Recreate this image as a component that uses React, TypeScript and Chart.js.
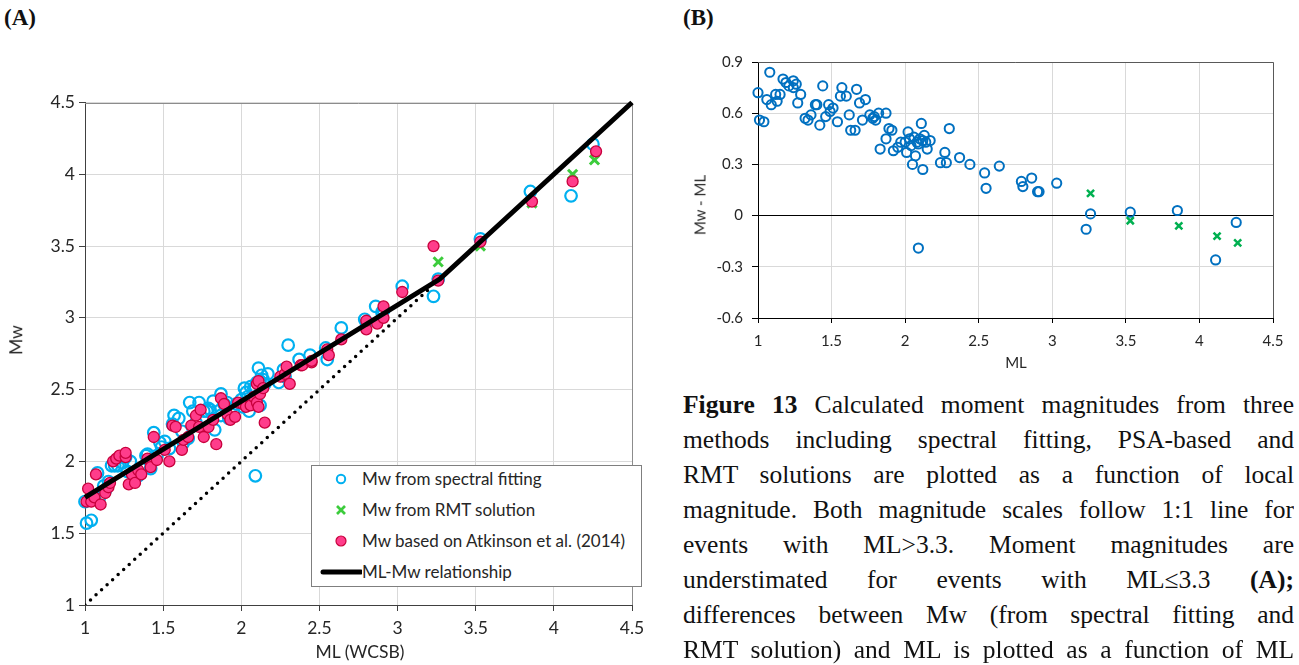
import React, { useEffect, useRef } from "react";
import { Chart, registerables } from "chart.js";

Chart.register(...registerables);

const FONT = "Lato, 'Open Sans', sans-serif";
const SERIF = "'Liberation Serif', 'DejaVu Serif', serif";

// ---- Data: Mw from spectral fitting (ML, Mw) and Mw - ML ----
const specML = [
  1.0, 1.01, 1.04, 1.06, 1.08, 1.09, 1.12, 1.13, 1.15, 1.17,
  1.19, 1.21, 1.24, 1.24, 1.26, 1.27, 1.29, 1.32, 1.34, 1.36,
  1.39, 1.4, 1.42, 1.44, 1.46, 1.48, 1.49, 1.51, 1.54, 1.56,
  1.57, 1.6, 1.62, 1.63, 1.66, 1.67, 1.69, 1.71, 1.73, 1.76,
  1.78, 1.8, 1.82, 1.79, 1.87, 1.83, 1.87, 1.89, 1.91, 1.92,
  1.95, 1.97, 2.0, 2.01, 2.02, 2.03, 2.04, 2.05, 2.06, 2.07,
  2.08, 2.09, 2.1, 2.11, 2.12, 2.12, 2.13, 2.14, 2.15, 2.17,
  2.09, 2.24, 2.27, 2.28, 2.3, 2.37, 2.44, 2.54, 2.55, 2.64,
  2.79, 2.8, 2.86, 2.9, 2.91, 3.03, 3.23, 3.26, 3.53, 3.85,
  4.11, 4.25,
];
const specMw = [
  1.72, 1.57, 1.59, 1.74, 1.92, 1.74, 1.83, 1.8, 1.86, 1.97,
  1.97, 1.97, 2.03, 1.99, 2.03, 1.93, 2.0, 1.89, 1.9, 1.95,
  2.04, 2.05, 1.95, 2.2, 2.04, 2.13, 2.1, 2.14, 2.09, 2.26,
  2.32, 2.3, 2.21, 2.13, 2.16, 2.41, 2.35, 2.27, 2.41, 2.35,
  2.35, 2.36, 2.42, 2.37, 2.47, 2.22, 2.32, 2.4, 2.41, 2.3,
  2.35, 2.4, 2.43, 2.38, 2.51, 2.48, 2.45, 2.35, 2.52, 2.42,
  2.51, 2.51, 2.55, 2.65, 2.39, 2.56, 2.6, 2.57, 2.54, 2.61,
  1.9, 2.55, 2.64, 2.59, 2.81, 2.71, 2.74, 2.79, 2.71, 2.93,
  2.99, 2.97, 3.08, 3.04, 3.05, 3.22, 3.15, 3.27, 3.55, 3.88,
  3.85, 4.21,
];
const specDiff = [
  0.72, 0.56, 0.55, 0.68, 0.84, 0.65, 0.71, 0.67, 0.71, 0.8,
  0.78, 0.76, 0.79, 0.75, 0.77, 0.66, 0.71, 0.57, 0.56, 0.59,
  0.65, 0.65, 0.53, 0.76, 0.58, 0.65, 0.61, 0.63, 0.55, 0.7,
  0.75, 0.7, 0.59, 0.5, 0.5, 0.74, 0.66, 0.56, 0.68, 0.59,
  0.57, 0.56, 0.6, 0.58, 0.6, 0.39, 0.45, 0.51, 0.5, 0.38,
  0.4, 0.43, 0.43, 0.37, 0.49, 0.45, 0.41, 0.3, 0.46, 0.35,
  0.43, 0.42, 0.45, 0.54, 0.27, 0.44, 0.47, 0.43, 0.39, 0.44,
  -0.19, 0.31, 0.37, 0.31, 0.51, 0.34, 0.3, 0.25, 0.16, 0.29,
  0.2, 0.17, 0.22, 0.14, 0.14, 0.19, -0.08, 0.01, 0.02, 0.03,
  -0.26, -0.04,
];

// ---- Mw from RMT solution ----
const rmtML = [3.26, 3.53, 3.86, 4.12, 4.26];
const rmtMw = [3.39, 3.5, 3.8, 4.0, 4.1];
const rmtDiff = [0.13, -0.03, -0.06, -0.12, -0.16];

// ---- Mw based on Atkinson et al. (2014) ----
const atkML = [
  1.01, 1.02, 1.04, 1.06, 1.07, 1.1, 1.13, 1.15, 1.16, 1.18,
  1.2, 1.22, 1.26, 1.26, 1.28, 1.3, 1.32, 1.34, 1.36, 1.4,
  1.42, 1.44, 1.46, 1.51, 1.54, 1.56, 1.58, 1.62, 1.63, 1.66,
  1.68, 1.71, 1.73, 1.74, 1.76, 1.79, 1.82, 1.84, 1.87, 1.89,
  1.91, 1.93, 1.96, 1.98, 2.01, 2.03, 2.06, 2.08, 2.1, 2.1,
  2.11, 2.11, 2.12, 2.14, 2.15, 2.25, 2.28, 2.29, 2.31, 2.38,
  2.39, 2.45, 2.45, 2.55, 2.56, 2.64, 2.8, 2.8, 2.87, 2.91,
  2.91, 3.03, 3.23, 3.26, 3.53, 3.86, 4.12, 4.27,
];
const atkMw = [
  1.72, 1.81, 1.72, 1.75, 1.91, 1.7, 1.78, 1.82, 1.85, 2.0,
  2.02, 2.04, 2.03, 2.06, 1.84, 1.91, 1.85, 1.94, 1.91, 2.02,
  1.96, 2.17, 2.01, 2.08, 2.0, 2.25, 2.24, 2.08, 2.15, 2.17,
  2.25, 2.32, 2.24, 2.36, 2.17, 2.24, 2.29, 2.12, 2.44, 2.4,
  2.33, 2.29, 2.31, 2.41, 2.4, 2.38, 2.39, 2.45, 2.41, 2.54,
  2.38, 2.56, 2.47, 2.51, 2.27, 2.59, 2.61, 2.66, 2.54, 2.67,
  2.67, 2.69, 2.7, 2.78, 2.74, 2.85, 2.92, 2.98, 2.96, 3.0,
  3.08, 3.18, 3.5, 3.26, 3.53, 3.81, 3.95, 4.16,
];

// ---- ML-Mw relationship and 1:1 line ----
const relML = [1.0, 3.27, 4.5];
const relMw = [1.75, 3.27, 4.5];
const oneML = [1.0, 3.2];
const oneMw = [1.0, 3.2];

// ---- Axis ranges / ticks ----
const axisA = { min: 1, max: 4.5, step: 0.5 };
const axisBx = { min: 1, max: 4.5, step: 0.5 };
const axisBy = { min: -0.6, max: 0.9, step: 0.3 };

const pts = (xs: number[], ys: number[]) => xs.map((x, i) => ({ x, y: ys[i] }));
const fmt = (v: any) => Number(v).toFixed(1).replace(/\.0$/, "").replace(/^-0$/, "0");

const framePlugin = {
  id: "frame",
  beforeDatasetsDraw(chart: any, _args: any, opts: any) {
    const { ctx, chartArea } = chart;
    const { left, right, top, bottom } = chartArea;
    ctx.save();
    ctx.strokeStyle = opts.color || "#888";
    ctx.lineWidth = 1;
    ctx.beginPath();
    ctx.moveTo(left, Math.round(top) + 0.5);
    ctx.lineTo(Math.round(right) + 0.5, Math.round(top) + 0.5);
    ctx.lineTo(Math.round(right) + 0.5, bottom);
    ctx.stroke();
    ctx.restore();
  },
};

function ChartA() {
  const ref = useRef<HTMLCanvasElement | null>(null);
  useEffect(() => {
    const chart = new Chart(ref.current as HTMLCanvasElement, {
      type: "scatter",
      data: {
        datasets: [
          {
            label: "ML-Mw relationship",
            data: pts(relML, relMw),
            showLine: true,
            borderColor: "#000",
            borderWidth: 5,
            pointRadius: 0,
            clip: false,
          } as any,
          {
            label: "1:1",
            data: pts(oneML, oneMw),
            showLine: true,
            borderColor: "#000",
            borderWidth: 3.5,
            borderDash: [0, 7.5],
            borderCapStyle: "round",
            pointRadius: 0,
          },
          {
            label: "Mw based on Atkinson et al. (2014)",
            data: pts(atkML, atkMw),
            backgroundColor: "#ff3d8b",
            borderColor: "#c8003c",
            borderWidth: 1.3,
            pointRadius: 5.5,
            clip: false,
          },
          {
            label: "Mw from RMT solution",
            data: pts(rmtML, rmtMw),
            pointStyle: "crossRot",
            borderColor: "#3ccc3c",
            borderWidth: 3,
            pointRadius: 6.5,
            clip: false,
          },
          {
            label: "Mw from spectral fitting",
            data: pts(specML, specMw),
            backgroundColor: "rgba(0,0,0,0)",
            borderColor: "#00b0f0",
            borderWidth: 2.2,
            pointRadius: 5.8,
            clip: false,
          },
        ],
      },
      options: {
        animation: false,
        responsive: false,
        events: [],
        layout: { padding: { top: 12, right: 28, left: 0, bottom: 0 } },
        plugins: {
          legend: { display: false },
          tooltip: { enabled: false },
          frame: { color: "#8c8c8c" },
        } as any,
        scales: {
          x: {
            type: "linear",
            min: axisA.min,
            max: axisA.max,
            afterFit: (s: any) => { s.height = 60; },
            ticks: { stepSize: axisA.step, callback: fmt, color: "#262626", padding: 7, font: { family: FONT, size: 17.5 }, maxRotation: 0 },
            grid: { color: "#d9d9d9", tickColor: "#404040", tickLength: 6 },
            border: { color: "#404040" },
          },
          y: {
            type: "linear",
            min: axisA.min,
            max: axisA.max,
            afterFit: (s: any) => { s.width = 85; },
            ticks: { stepSize: axisA.step, callback: fmt, color: "#262626", padding: 4, font: { family: FONT, size: 17.5 } },
            grid: { color: "#d9d9d9", tickColor: "#404040", tickLength: 6 },
            border: { color: "#404040" },
          },
        },
      },
      plugins: [framePlugin],
    } as any);
    return () => chart.destroy();
  }, []);
  return <canvas ref={ref} width={660} height={577} style={{ display: "block" }} />;
}

function ChartB() {
  const ref = useRef<HTMLCanvasElement | null>(null);
  useEffect(() => {
    const chart = new Chart(ref.current as HTMLCanvasElement, {
      type: "scatter",
      data: {
        datasets: [
          {
            label: "RMT solution",
            data: pts(rmtML, rmtDiff),
            pointStyle: "crossRot",
            borderColor: "#00b050",
            borderWidth: 2.5,
            pointRadius: 5,
            clip: false,
          },
          {
            label: "Spectral fitting",
            data: pts(specML, specDiff),
            backgroundColor: "rgba(0,0,0,0)",
            borderColor: "#0070c0",
            borderWidth: 2,
            pointRadius: 4.6,
            clip: false,
          },
        ],
      },
      options: {
        animation: false,
        responsive: false,
        events: [],
        layout: { padding: { top: 22, right: 26, left: 0, bottom: 0 } },
        plugins: {
          legend: { display: false },
          tooltip: { enabled: false },
          frame: { color: "#595959" },
        } as any,
        scales: {
          x: {
            type: "linear",
            min: axisBx.min,
            max: axisBx.max,
            afterFit: (s: any) => { s.height = 62; },
            ticks: { stepSize: axisBx.step, callback: fmt, color: "#262626", padding: 9, font: { family: FONT, size: 15 }, maxRotation: 0 },
            grid: { color: "#d9d9d9", tickColor: "#000", tickLength: 5 },
            border: { color: "#000" },
          },
          y: {
            type: "linear",
            min: axisBy.min,
            max: axisBy.max,
            afterFit: (s: any) => { s.width = 78; },
            ticks: { stepSize: axisBy.step, callback: fmt, color: "#262626", padding: 9, font: { family: FONT, size: 15 } },
            grid: {
              color: (c: any) => (Math.abs(c.tick?.value ?? 1) < 1e-9 ? "#000" : "#d9d9d9"),
              tickColor: "#000",
              tickLength: 6,
            },
            border: { color: "#000" },
          },
        },
      },
      plugins: [framePlugin],
    } as any);
    return () => chart.destroy();
  }, []);
  return <canvas ref={ref} width={619} height={340} style={{ display: "block" }} />;
}

const abs = (left: number, top: number, extra: any = {}) => ({ position: "absolute" as const, left, top, ...extra });

function CenterText({ x, y, text, size, rotate = false }: { x: number; y: number; text: string; size: number; rotate?: boolean }) {
  return (
    <div
      style={{
        position: "absolute",
        left: x,
        top: y,
        transform: `translate(-50%, -50%)${rotate ? " rotate(-90deg)" : ""}`,
        whiteSpace: "nowrap",
        font: `${size}px ${FONT}`,
        color: "#262626",
        lineHeight: 1,
      }}
    >
      {text}
    </div>
  );
}

const captionLines: React.ReactNode[] = [
  <><b>Figure 13</b> Calculated moment magnitudes from three</>,
  <>methods including spectral fitting, PSA-based and</>,
  <>RMT solutions are plotted as a function of local</>,
  <>magnitude. Both magnitude scales follow 1:1 line for</>,
  <>events with ML&gt;3.3. Moment magnitudes are</>,
  <>understimated for events with ML≤3.3 <b>(A);</b></>,
  <>differences between Mw (from spectral fitting and</>,
  <>RMT solution) and ML is plotted as a function of ML</>,
];

function Legend() {
  const row = (top: number, marker: React.ReactNode, text: string) => (
    <div style={{ position: "absolute", left: 0, top: top - 10, height: 20, width: "100%" }}>
      <svg width={50} height={20} style={{ position: "absolute", left: 0, top: 0 }}>{marker}</svg>
      <div style={{ position: "absolute", left: 50, top: 0, lineHeight: "20px", whiteSpace: "nowrap" }}>{text}</div>
    </div>
  );
  return (
    <div
      style={{
        position: "absolute",
        left: 311,
        top: 465,
        width: 331,
        height: 122,
        border: "1px solid #7f7f7f",
        background: "#fff",
        boxSizing: "border-box",
        font: `17px ${FONT}`,
        color: "#262626",
      }}
    >
      {row(13, <circle cx={29} cy={10} r={4.2} fill="none" stroke="#00b0f0" strokeWidth={2} />, "Mw from spectral fitting")}
      {row(44, <g stroke="#3ccc3c" strokeWidth={2.6}><line x1={25} y1={6} x2={33} y2={14} /><line x1={33} y1={6} x2={25} y2={14} /></g>, "Mw from RMT solution")}
      {row(75, <circle cx={29} cy={10} r={5} fill="#ff3d8b" stroke="#c8003c" strokeWidth={1.2} />, "Mw based on Atkinson et al. (2014)")}
      {row(106, <line x1={11} y1={10} x2={49} y2={10} stroke="#000" strokeWidth={5} strokeLinecap="round" />, "ML-Mw relationship")}
    </div>
  );
}

export default function App() {
  return (
    <div style={{ position: "absolute", left: 0, top: 0, width: 1299, height: 665, overflow: "hidden", background: "#fff" }}>
      <div style={abs(4, 5, { font: `bold 23px ${SERIF}`, color: "#111" })}>(A)</div>
      <div style={abs(683, 5, { font: `bold 23px ${SERIF}`, color: "#111" })}>(B)</div>

      <div style={abs(0, 88)}>
        <ChartA />
      </div>
      <CenterText x={16} y={340} text="Mw" size={17.5} rotate />
      <CenterText x={360} y={652} text="ML (WCSB)" size={17.5} />
      <Legend />

      <div style={abs(680, 40)}>
        <ChartB />
      </div>
      <CenterText x={700} y={205} text="Mw - ML" size={15} rotate />
      <CenterText x={1016} y={362} text="ML" size={15} />

      <div style={abs(683, 387, { width: 611, font: `25.5px ${SERIF}`, color: "#111", lineHeight: "35px" })}>
        {captionLines.map((l, i) => (
          <div key={i} style={{ textAlign: "justify", textAlignLast: "justify" as any, height: 35, overflow: "hidden" }}>
            {l}
          </div>
        ))}
      </div>
    </div>
  );
}
